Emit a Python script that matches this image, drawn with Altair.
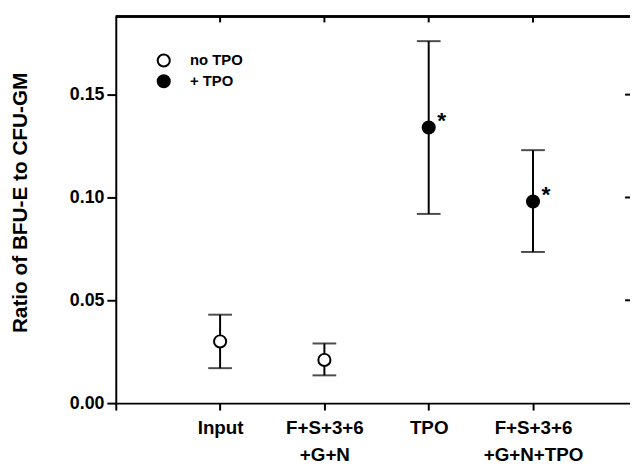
import json
import altair as alt
import pandas as pd

# ---- data ----
positions = [1, 2, 3, 4]
label_lines = [["Input"], ["F+S+3+6", "+G+N"], ["TPO"], ["F+S+3+6", "+G+N+TPO"]]
means = [0.030, 0.021, 0.134, 0.098]
uppers = [0.043, 0.029, 0.176, 0.123]
lowers = [0.017, 0.0135, 0.092, 0.0735]
groups = ["no TPO", "no TPO", "+ TPO", "+ TPO"]
marks = ["", "", "*", "*"]
y_ticks = [0.0, 0.05, 0.10, 0.15]
legend_order = ["no TPO", "+ TPO"]

df = pd.DataFrame({
    "pos": positions,
    "mean": means,
    "upper": uppers,
    "lower": lowers,
    "group": groups,
    "mark": marks,
})
rticks = pd.DataFrame({"y": y_ticks[1:]})

W, H = 520, 391
FONT = "Liberation Sans"

label_expr = ""
for p, lines in zip(positions, label_lines):
    label_expr += f"datum.value == {p} ? {json.dumps(lines)} : "
label_expr += "''"

xscale = alt.Scale(domain=[0, 4.93], nice=False, zero=False)
yscale = alt.Scale(domain=[0, 0.188], nice=False)

xaxis = alt.Axis(values=[0] + positions, labelExpr=label_expr, title=None,
                 grid=False, tickSize=7, tickWidth=2, domainWidth=2,
                 labelFontSize=19, labelFont=FONT, labelFontWeight="bold",
                 labelPadding=9, labelLineHeight=27, labelColor="black",
                 domainColor="black", tickColor="black", labelAngle=0)
yaxis = alt.Axis(values=y_ticks, format=".2f", title="Ratio of BFU-E to CFU-GM",
                 grid=False, tickSize=9, tickWidth=2, domainWidth=2,
                 labelFontSize=18, labelFont=FONT, labelFontWeight="bold",
                 labelPadding=3, labelColor="black", domainColor="black",
                 tickColor="black", titleFontSize=21, titleFont=FONT,
                 titleFontWeight="bold", titleColor="black",
                 titleX=-90, titleY=188, titleAngle=-90,
                 titleBaseline="alphabetic", titleAlign="center")

base = alt.Chart(df)

bars = base.mark_rule(color="black", strokeWidth=2).encode(
    x=alt.X("pos:Q", scale=xscale, axis=xaxis),
    y=alt.Y("lower:Q", scale=yscale, axis=yaxis),
    y2="upper:Q",
)
cap_hi = base.mark_tick(orient="horizontal", size=24, thickness=2, color="black").encode(
    x="pos:Q", y="upper:Q")
cap_lo = base.mark_tick(orient="horizontal", size=24, thickness=2, color="black").encode(
    x="pos:Q", y="lower:Q")

points = base.mark_circle(size=150, stroke="black", strokeWidth=2, opacity=1).encode(
    x="pos:Q",
    y="mean:Q",
    fill=alt.Fill("group:N",
                  scale=alt.Scale(domain=legend_order, range=["white", "black"]),
                  legend=alt.Legend(title=None, orient="none", legendX=41, legendY=37,
                                    symbolType="circle", symbolSize=150,
                                    symbolStrokeColor="black", symbolStrokeWidth=2,
                                    labelFont=FONT, labelFontSize=15,
                                    labelFontWeight="bold", labelColor="black",
                                    labelOffset=19, rowPadding=0, padding=0)),
)

stars = base.mark_text(dx=13, dy=-7, fontSize=23, fontWeight="bold",
                       font=FONT, color="black", align="center", baseline="middle").encode(
    x="pos:Q", y="mean:Q", text="mark:N")

top_line = base.mark_rule(color="black", strokeWidth=2).encode(
    x=alt.value(0), x2=alt.value(W + 4), y=alt.value(0))
top_ticks = base.mark_rule(color="black", strokeWidth=2).encode(
    x="pos:Q", y=alt.value(0), y2=alt.value(6))
right_ticks = alt.Chart(rticks).mark_rule(color="black", strokeWidth=2).encode(
    y="y:Q", x=alt.value(W), x2=alt.value(W - 5))

chart = alt.layer(bars, cap_hi, cap_lo, points, stars, top_line, top_ticks, right_ticks).properties(
    width=W, height=H,
    autosize=alt.AutoSizeParams(type="none"),
    padding={"left": 109, "top": 6, "right": 0, "bottom": 60},
).configure_view(strokeWidth=0).configure(background="white")

chart.save("out.html", embed_options={"renderer": "svg", "actions": False})
